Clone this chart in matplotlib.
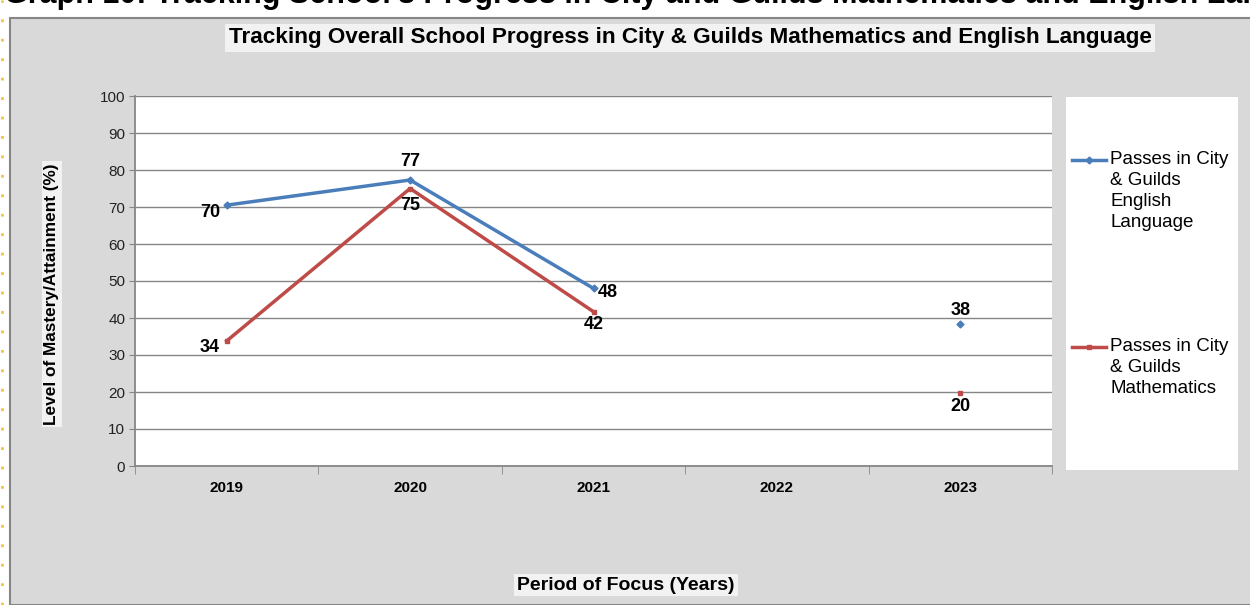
import numpy as np
import matplotlib.pyplot as plt
from matplotlib.patches import Rectangle
from matplotlib.lines import Line2D

plt.rcParams['font.family'] = ['Liberation Sans', 'DejaVu Sans']

years = ['2019', '2020', '2021', '2022', '2023']
english = [70.5, 77.3, 48.0, np.nan, 38.4]
maths = [33.8, 75.0, 41.7, np.nan, 19.7]
english_labels = ['70', '77', '48', '', '38']
maths_labels = ['34', '75', '42', '', '20']
series_names = ['Passes in City\n& Guilds\nEnglish\nLanguage', 'Passes in City\n& Guilds\nMathematics']

# label offsets in points (dx, dy)
english_off = [(-11.5, -5), (0, 13), (10, -3), (0, 0), (0, 9.5)]
maths_off = [(-12, -4.5), (0, -12), (0, -9.5), (0, 0), (0, -10)]

blue = '#4a7ebb'
red = '#be4b48'
W, H = 1250, 605

fig = plt.figure(figsize=(W / 100, H / 100), dpi=100)
fig.patch.set_facecolor('white')

# chart area background
fig.patches.append(Rectangle((10 / W, 0), 1.0, (H - 18) / H, transform=fig.transFigure,
                             facecolor='#d9d9d9', edgecolor='#868686', linewidth=1.5, zorder=-2))
# yellow dotted margin on the left
fig.add_artist(Line2D([2 / W, 2 / W], [0, 1], transform=fig.transFigure, color='#f5c242',
                      linestyle=(0, (1, 6)), linewidth=2, zorder=-1))
# clipped heading at the very top
fig.text(0.003, 1 - 3 / H, "Graph 10: Tracking School's Progress in City and Guilds Mathematics and English Language",
         fontsize=22, fontweight='bold', va='baseline', ha='left', zorder=-1)

ax = fig.add_axes([135 / W, (H - 466) / H, 917 / W, 370 / H])
ax.set_facecolor('white')
x = np.arange(len(years))

ax.plot(x, english, color=blue, linewidth=2.5, marker='D', markersize=3.5, zorder=3)
ax.plot(x, maths, color=red, linewidth=2.5, marker='s', markersize=3.5, zorder=3)

for i in range(len(years)):
    if english_labels[i]:
        ax.annotate(english_labels[i], (x[i], english[i]), xytext=english_off[i],
                    textcoords='offset points', ha='center', va='center',
                    fontsize=13, fontweight='bold')
    if maths_labels[i]:
        ax.annotate(maths_labels[i], (x[i], maths[i]), xytext=maths_off[i],
                    textcoords='offset points', ha='center', va='center',
                    fontsize=13, fontweight='bold')

ax.set_xlim(-0.5, len(years) - 0.5)
ax.set_ylim(0, 100)
ax.set_yticks(range(0, 101, 10))
ax.tick_params(axis='y', labelsize=11, colors='#868686', labelcolor='#222222', length=4, pad=3)
ax.set_xticks(x)
ax.set_xticklabels(years, fontsize=11, fontweight='bold')
ax.set_xticks(np.arange(-0.5, len(years)), minor=True)
ax.tick_params(axis='x', which='major', length=0, pad=11)
ax.tick_params(axis='x', which='minor', length=6, color='#868686')
ax.yaxis.grid(True, color='#868686', linewidth=1)
ax.set_axisbelow(True)
for s in ['top', 'right']:
    ax.spines[s].set_visible(False)
for s in ['left', 'bottom']:
    ax.spines[s].set_color('#868686')
    ax.spines[s].set_linewidth(1.3)

bbox = dict(boxstyle='square,pad=0.15', facecolor='#f2f2f2', edgecolor='none')
fig.text(690 / W, 1 - 38 / H,
         'Tracking Overall School Progress in City & Guilds Mathematics and English Language',
         fontsize=16.2, fontweight='bold', ha='center', va='center', bbox=bbox)
fig.text(52 / W, 1 - 294 / H, 'Level of Mastery/Attainment (%)', rotation=90,
         fontsize=12.4, fontweight='bold', ha='center', va='center', bbox=bbox)
fig.text(626 / W, 1 - 585 / H, 'Period of Focus (Years)',
         fontsize=14, fontweight='bold', ha='center', va='center', bbox=bbox)

# legend box, drawn in pixel coordinates
lax = fig.add_axes([1066 / W, (H - 470) / H, 172 / W, 373 / H])
lax.set_xlim(1066, 1238)
lax.set_ylim(470, 97)
lax.set_facecolor('white')
lax.axis('off')
lax.add_patch(Rectangle((1066, 97), 172, 373, facecolor='white', edgecolor='none'))
for name, col, mk, ytop in zip(series_names, [blue, red], ['D', 's'], [160, 347]):
    lax.plot([1072, 1106], [ytop, ytop], color=col, linewidth=2.5)
    lax.plot([1089], [ytop], color=col, marker=mk, markersize=3.5)
    lax.text(1110, ytop - 9, name, fontsize=13.5, va='top', ha='left', linespacing=1.3)

fig.savefig('out.png', dpi=100)
